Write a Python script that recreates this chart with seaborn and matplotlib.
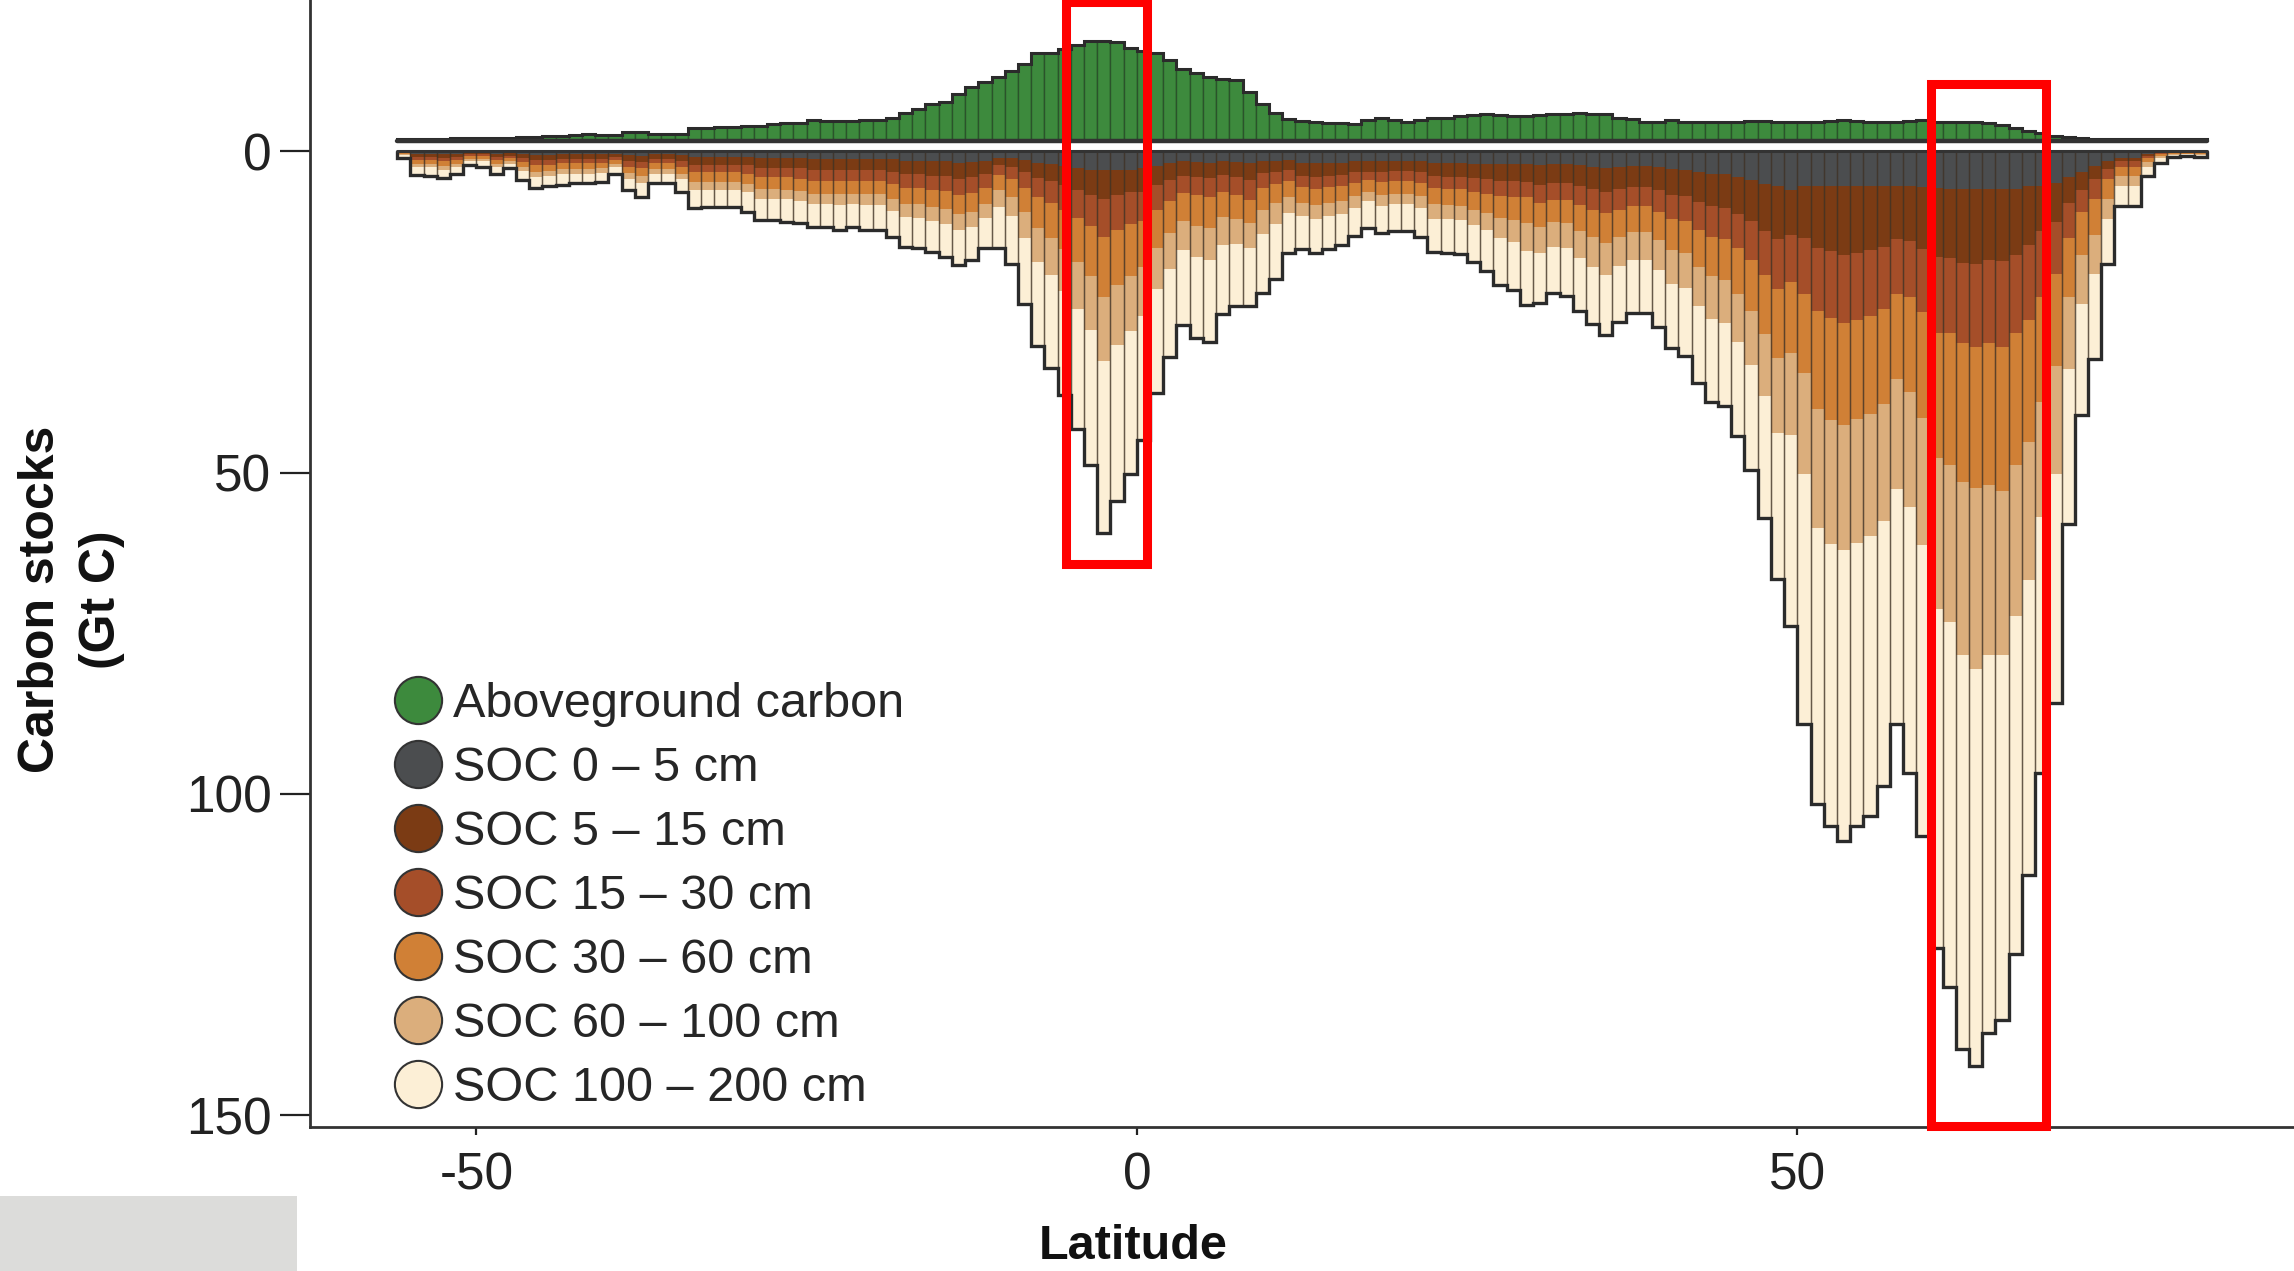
import numpy as np
import pandas as pd
import seaborn as sns
import matplotlib.pyplot as plt
from matplotlib.lines import Line2D
from matplotlib.patches import Rectangle

# 1-degree latitude bins (left edges), -56 .. 80
lat_bins = list(range(-56, 81))

# aboveground carbon (Gt C) per bin
aboveground = [0.3, 0.3, 0.3, 0.3, 0.4, 0.4, 0.4, 0.5, 0.5, 0.6,
               0.6, 0.7, 0.8, 0.9, 1.1, 0.9, 0.9, 1.3, 1.3, 1.0,
               1.0, 1.1, 2.0, 2.0, 2.2, 2.2, 2.3, 2.3, 2.6, 2.7,
               2.7, 3.3, 3.1, 3.1, 3.1, 3.2, 3.2,
               3.6, 4.4, 4.9, 5.7, 6.0, 7.3, 8.3, 9.1, 10.0, 10.8,
               12.0, 13.6, 13.7, 14.3, 14.9, 15.5, 15.5, 15.3, 14.5, 14.0,
               13.7, 12.6, 11.1, 10.5, 9.9, 9.6, 9.4, 7.6, 5.8, 4.4,
               3.4, 3.1, 2.9, 2.8, 2.7, 2.6, 3.2, 3.5, 3.3, 3.0,
               3.2, 3.5, 3.6, 3.8, 4.0, 4.2, 4.0, 3.9, 3.9, 4.0,
               4.1, 4.2, 4.3, 4.2, 4.1, 3.6, 3.4, 3.0, 3.0, 3.2,
               3.0, 2.9, 2.9, 3.0, 3.0, 3.1, 3.1, 3.0, 3.0, 3.0,
               3.0, 3.1, 3.2, 3.1, 3.0, 2.9, 3.0, 3.1, 3.2, 3.0,
               3.0, 3.0, 2.9, 2.7, 2.4, 2.0, 1.6, 1.2, 0.8, 0.6,
               0.4, 0.3, 0.3, 0.3, 0.3, 0.3, 0.3, 0.3, 0.3, 0.3]

soc_0_5 = [0.1, 0.4, 0.4, 0.4, 0.4, 0.2, 0.2, 0.4, 0.3, 0.5,
           0.6, 0.6, 0.5, 0.5, 0.5, 0.5, 0.4, 0.6, 0.7, 0.5,
           0.5, 0.6, 0.9, 0.9, 0.9, 0.9, 0.9, 1.1, 1.1, 1.1,
           1.1, 1.2, 1.2, 1.2, 1.2, 1.2, 1.2, 1.3, 1.5, 1.5,
           1.6, 1.6, 1.8, 1.7, 1.5,
           1.0, 1.1, 1.4, 1.8, 2.0, 2.3, 2.6, 2.9, 3.0, 3.0,
           2.9, 2.7, 2.3, 1.9, 1.6, 1.7, 1.8, 1.6, 1.7, 1.9,
           1.5, 1.5, 1.4,
           1.8, 1.9, 1.8, 1.8, 1.6, 1.6, 1.6, 1.5, 1.5, 1.6,
           1.9, 1.9, 1.9, 2.0, 2.0, 2.0, 2.0, 2.0,
           2.1, 2.0, 2.0, 2.2, 2.4, 2.6, 2.4, 2.3, 2.3, 2.5,
           2.8, 2.9, 3.2, 3.5, 3.6, 4.0, 4.5, 5.1, 5.5,
           6.0, 5.4, 5.4, 5.4, 5.4, 5.4, 5.4, 5.4, 5.4, 5.4,
           5.6, 5.8, 5.9, 5.9, 5.9, 5.9, 5.9, 5.9, 5.4, 5.4, 5.0,
           4.0, 3.2, 2.3, 1.5, 1.0, 1.0, 0.4, 0.2, 0.1, 0.1, 0.1]

soc_5_15 = [0.1, 0.5, 0.5, 0.6, 0.5, 0.3, 0.3, 0.5, 0.4, 0.6,
            0.8, 0.8, 0.7, 0.7, 0.7, 0.7, 0.5, 0.9, 1.0, 0.7,
            0.7, 0.9, 1.2, 1.2, 1.2, 1.2, 1.3, 1.5, 1.5, 1.5,
            1.6, 1.7, 1.7, 1.7, 1.7, 1.7, 1.7, 1.9, 2.1, 2.1,
            2.2, 2.3, 2.5, 2.4, 2.1,
            1.2, 1.4, 1.9, 2.4, 2.7, 3.0, 3.5, 3.9, 4.5, 3.8,
            3.5, 3.6, 3.0, 2.6, 2.2, 2.3, 2.4, 2.1, 2.3, 2.6,
            1.9, 1.7, 1.6,
            2.0, 2.1, 2.0, 1.9, 1.7, 1.6, 1.7, 1.6, 1.6, 1.7,
            2.0, 2.1, 2.1, 2.2, 2.4, 2.6, 2.7, 2.8,
            3.1, 2.9, 2.9, 3.2, 3.5, 3.7, 3.5, 3.3, 3.3, 3.6,
            4.0, 4.1, 4.7, 5.1, 5.2, 5.8, 6.4, 7.4, 8.2,
            7.0, 8.1, 9.6, 10.2, 10.7, 10.4, 10.0, 9.5, 8.3, 8.6,
            9.6, 10.7, 10.7, 11.5, 11.7, 11.1, 11.2, 10.2, 9.2, 7.1, 6.0,
            4.0, 2.8, 2.0, 1.3, 0.6, 0.6, 0.3, 0.1, 0.1, 0.1, 0.1]

soc_15_30 = [0.1, 0.5, 0.5, 0.6, 0.5, 0.3, 0.3, 0.5, 0.4, 0.6,
             0.8, 0.8, 0.7, 0.7, 0.7, 0.7, 0.5, 0.9, 1.0, 0.7,
             0.7, 0.9, 1.2, 1.2, 1.2, 1.2, 1.3, 1.5, 1.5, 1.5,
             1.6, 1.7, 1.7, 1.7, 1.7, 1.7, 1.7, 1.9, 2.1, 2.1,
             2.2, 2.3, 2.5, 2.4, 2.1,
             1.5, 1.8, 2.4, 3.0, 3.4, 3.8, 4.3, 4.9, 5.9, 5.4,
             5.0, 4.5, 3.8, 3.2, 2.7, 2.9, 3.0, 2.6, 2.8, 3.1,
             2.3, 1.9, 1.6,
             1.8, 1.9, 1.8, 1.8, 1.6, 1.3, 1.5, 1.5, 1.5, 1.6,
             1.9, 1.9, 1.9, 2.1, 2.2, 2.4, 2.5, 2.4,
             2.8, 2.7, 2.7, 3.0, 3.2, 3.4, 3.2, 3.0, 3.0, 3.3,
             3.7, 3.8, 4.3, 4.7, 4.8, 5.3, 6.0, 6.8, 7.8,
             7.4, 8.7, 9.9, 10.4, 10.7, 10.4, 10.2, 9.7, 8.5, 8.7,
             9.8, 11.8, 11.7, 12.5, 12.8, 12.9, 13.3, 12.2, 11.7, 10.2, 8.1,
             5.5, 3.4, 3.1, 1.5, 0.9, 0.9, 0.4, 0.2, 0.1, 0.1, 0.1]

soc_30_60 = [0.2, 0.6, 0.6, 0.7, 0.6, 0.4, 0.4, 0.6, 0.5, 0.8,
             1.0, 0.9, 0.9, 0.9, 0.9, 0.8, 0.6, 1.0, 1.2, 0.9,
             0.9, 1.1, 1.5, 1.5, 1.5, 1.5, 1.6, 1.8, 1.8, 1.9,
             1.9, 2.0, 2.0, 2.1, 2.0, 2.1, 2.1, 2.3, 2.5, 2.6,
             2.7, 2.8, 3.0, 2.9, 2.6,
             2.4, 2.8, 3.8, 4.8, 5.4, 6.1, 6.9, 7.8, 9.3, 8.7,
             8.0, 7.2, 6.0, 5.1, 4.3, 4.7, 4.8, 4.0, 3.7, 3.6,
             3.5, 3.0, 2.5,
             2.4, 2.5, 2.4, 2.3, 2.1, 1.8, 2.0, 2.0, 2.0, 2.1,
             2.5, 2.5, 2.6, 2.8, 3.0, 3.4, 3.5, 4.0,
             3.8, 3.5, 3.6, 4.0, 4.3, 4.6, 4.3, 4.0, 4.0, 4.4,
             4.9, 5.1, 5.8, 6.2, 6.4, 7.1, 7.9, 9.1, 10.7,
             11.0, 12.3, 15.2, 15.9, 15.8, 15.5, 15.3, 14.7, 13.3, 14.8,
             16.5, 19.5, 20.5, 21.5, 22.0, 22.0, 22.5, 20.5, 18.9, 16.4, 14.4,
             9.2, 6.7, 5.6, 3.1, 1.4, 1.4, 0.6, 0.3, 0.1, 0.1, 0.1]

soc_60_100 = [0.1, 0.5, 0.5, 0.6, 0.5, 0.3, 0.3, 0.5, 0.4, 0.6,
              0.8, 0.8, 0.7, 0.7, 0.7, 0.7, 0.5, 0.9, 1.0, 0.7,
              0.7, 0.9, 1.2, 1.2, 1.2, 1.2, 1.3, 1.5, 1.5, 1.5,
              1.6, 1.7, 1.7, 1.7, 1.7, 1.7, 1.7, 1.9, 2.1, 2.1,
              2.2, 2.3, 2.5, 2.4, 2.1,
              2.6, 3.0, 4.0, 5.2, 5.7, 6.5, 7.3, 8.3, 9.9, 9.2,
              8.6, 7.7, 6.4, 5.5, 4.6, 4.9, 5.0, 4.3, 4.0, 3.9,
              3.7, 3.2, 2.5,
              2.1, 2.2, 2.1, 2.0, 1.8, 1.5, 1.8, 1.7, 1.7, 1.9,
              2.2, 2.2, 2.2, 2.4, 2.6, 3.1, 3.4, 4.3,
              4.0, 3.8, 3.8, 4.2, 4.6, 4.9, 4.5, 4.3, 4.3, 4.7,
              5.2, 5.4, 6.1, 6.6, 6.7, 7.5, 8.4, 9.7, 11.6,
              12.8, 15.8, 18.6, 19.2, 19.5, 19.2, 18.9, 18.2, 17.0, 17.9,
              19.8, 23.5, 24.5, 27.0, 28.1, 26.5, 25.5, 23.5, 21.5, 17.8, 16.8,
              11.2, 7.7, 6.1, 3.1, 1.5, 1.5, 0.7, 0.3, 0.2, 0.1, 0.2]

soc_100_200 = [0.4, 1.2, 1.3, 1.3, 1.0, 0.7, 0.9, 1.0, 0.7, 1.4,
               1.8, 1.6, 1.8, 1.5, 1.5, 1.4, 1.0, 1.8, 2.2, 1.5,
               1.5, 1.9, 2.9, 2.7, 2.7, 2.7, 3.0, 3.3, 3.3, 3.5,
               3.4, 3.5, 3.5, 3.9, 3.5, 3.9, 3.9, 4.0, 4.6, 4.7,
               4.8, 5.1, 5.4, 5.2, 4.7,
               6.3, 7.5, 10.3, 13.1, 14.6, 16.3, 18.6, 21.0, 26.8, 24.3,
               22.3, 19.3, 16.1, 13.8, 11.7, 12.6, 12.7, 10.7, 9.6, 9.0,
               9.2, 8.6, 6.3,
               5.1, 5.2, 5.1, 4.8, 4.4, 4.2, 4.2, 4.1, 4.1, 4.4,
               5.2, 5.2, 5.3, 5.8, 6.4, 7.3, 7.5, 8.5,
               7.9, 7.2, 7.6, 8.3, 8.9, 9.4, 8.7, 8.3, 8.3, 8.9,
               10.0, 10.5, 12.0, 12.9, 13.0, 14.6, 16.4, 18.9, 22.8,
               29.6, 38.8, 42.9, 43.9, 45.2, 44.1, 43.6, 41.3, 36.6, 41.4,
               45.2, 52.6, 56.7, 61.3, 61.8, 58.8, 56.7, 52.6, 45.9, 39.9, 35.6,
               24.1, 17.3, 13.3, 7.1, 3.2, 3.2, 1.4, 0.7, 0.3, 0.2, 0.3]

layer_names = ['SOC 0 – 5 cm', 'SOC 5 – 15 cm', 'SOC 15 – 30 cm',
               'SOC 30 – 60 cm', 'SOC 60 – 100 cm', 'SOC 100 – 200 cm']
layer_colors = ['#4b4d4f', '#7b3b14', '#a54e29', '#d08036', '#dbae7c', '#fcefd6']
green = '#3d8a3d'

soil = pd.DataFrame(dict(zip(layer_names, [soc_0_5, soc_5_15, soc_15_30,
                                            soc_30_60, soc_60_100, soc_100_200])),
                    index=lat_bins)
assert len(aboveground) == len(lat_bins)

sns.set_theme(style='ticks')
plt.rcParams['font.family'] = ['Liberation Sans', 'DejaVu Sans']
plt.rcParams['axes.unicode_minus'] = False

fig = plt.figure(figsize=(22.94, 12.71), dpi=100)
ax = fig.add_axes([0.1351, 0.1133, 0.8649, 0.8867])

edges = np.append(lat_bins, lat_bins[-1] + 1)
GREEN_BASE = -1.6

# soil layers, stacked downward (y axis is inverted)
bottom = np.zeros(len(lat_bins))
for name, color in zip(layer_names, layer_colors):
    ax.bar(lat_bins, soil[name].values, width=1.0, bottom=bottom, align='edge',
           color=color, linewidth=0, zorder=2)
    bottom = bottom + soil[name].values
total = bottom
ax.bar(lat_bins, total, width=1.0, align='edge', facecolor='none',
       edgecolor=(0.25, 0.2, 0.15, 0.55), linewidth=1.0, zorder=3)
ax.stairs(total, edges, baseline=0, color='#2b2b2b', linewidth=2.4, zorder=4)
ax.plot([edges[0], edges[-1]], [0, 0], color='#333333', linewidth=2.2, zorder=4)

# aboveground carbon, drawn upward above a small gap
agc = np.array(aboveground)
ax.bar(lat_bins, -agc, width=1.0, bottom=GREEN_BASE, align='edge', color=green,
       edgecolor=(0.1, 0.22, 0.1, 0.6), linewidth=1.0, zorder=2)
ax.stairs(GREEN_BASE - agc, edges, baseline=GREEN_BASE, color='#2b2b2b', linewidth=2.2, zorder=4)
ax.plot([edges[0], edges[-1]], [GREEN_BASE, GREEN_BASE], color='#333333', linewidth=3.2, zorder=4)

# highlight boxes
ax.add_patch(Rectangle((-5.4, -23.2), 6.2, 87.4, fill=False, edgecolor='#ff0000',
                       linewidth=6.5, zorder=6, clip_on=False))
ax.add_patch(Rectangle((60.1, -10.5), 8.7, 162.1, fill=False, edgecolor='#ff0000',
                       linewidth=6.5, zorder=6, clip_on=False))

ax.set_xlim(-62.6, 87.6)
ax.set_ylim(151.8, -23.5)
ax.set_yticks([0, 50, 100, 150])
ax.set_xticks([-50, 0, 50])
ax.tick_params(axis='y', length=21.6, width=1.6, pad=6, labelsize=37, colors='#222222')
ax.tick_params(axis='x', length=6, width=1.6, pad=12, labelsize=37, colors='#222222')
sns.despine(ax=ax)
for side in ['left', 'bottom']:
    ax.spines[side].set_linewidth(2.0)
    ax.spines[side].set_color('#333333')

ax.set_xlabel('Latitude', fontsize=35, fontweight='bold', color='#111111')
ax.xaxis.label.set_va('center')
ax.xaxis.set_label_coords(0.415, -0.106)
ax.set_ylabel('Carbon stocks\n(Gt C)', fontsize=36, fontweight='bold', color='#111111',
              linespacing=1.42)
ax.yaxis.label.set_va('center')
ax.yaxis.set_label_coords(-0.12, 0.468)

handles = [Line2D([], [], marker='o', linestyle='none', markersize=34,
                  markerfacecolor=c, markeredgecolor='#333333', markeredgewidth=1.5)
           for c in [green] + layer_colors]
ax.legend(handles, ['Aboveground carbon'] + layer_names, loc='upper left',
          bbox_to_anchor=(0.1717, 0.4635), bbox_transform=fig.transFigure,
          frameon=False, fontsize=35, labelspacing=0.39, handletextpad=0.22,
          handlelength=1.0, borderpad=0, borderaxespad=0)

fig.patches.append(Rectangle((0, 0), 0.1295, 0.059, transform=fig.transFigure,
                             facecolor='#dcdcda', edgecolor='none', zorder=0))

fig.savefig('out.png', dpi=100)
